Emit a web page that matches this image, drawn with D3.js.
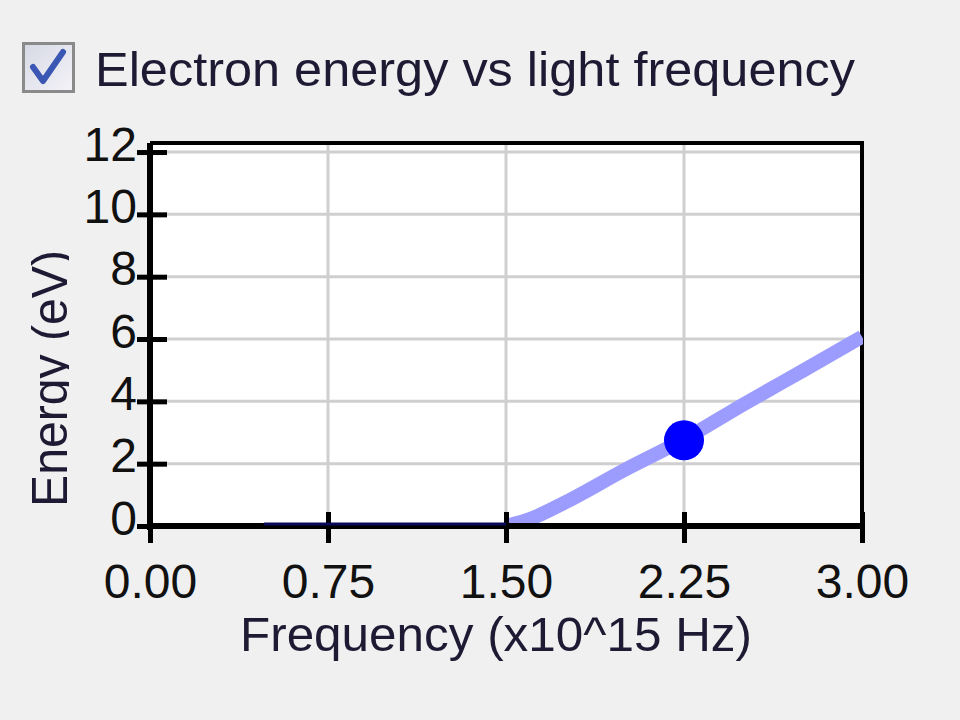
<!DOCTYPE html>
<html>
<head>
<meta charset="utf-8">
<script src="https://cdn.jsdelivr.net/npm/d3@7/dist/d3.min.js"></script>
<style>
html,body{margin:0;padding:0;background:#f0f0f0;}
svg{display:block;}
text{font-family:"Liberation Sans",Arial,sans-serif;}
</style>
</head>
<body>
<svg id="chart" width="960" height="720"></svg>
<script>
// ---- data ----
const chartTitle = "Electron energy vs light frequency";
const xAxisTitle = "Frequency (x10^15 Hz)";
const yAxisTitle = "Energy (eV)";
const xTicks = [0, 0.75, 1.5, 2.25, 3.0];
const yTicks = [0, 2, 4, 6, 8, 10, 12];
// below threshold: zero energy (dark line)
const zeroFreq = [0.48, 0.75, 1.0, 1.25, 1.5];
const zeroEnergy = [0, 0, 0, 0, 0];
// above threshold: electron energy curve (light blue)
const curveFreq = [1.50, 1.60, 1.75, 2.00, 2.25, 2.50, 2.75, 3.00];
const curveEnergy = [0.00, 0.22, 0.76, 1.80, 2.78, 3.90, 4.98, 6.07];
// current point
const pointFreq = [2.25];
const pointEnergy = [2.75];

(function () {
// ---- layout ----
const svg = d3.select("#chart");
const pL = 150, pR = 862, pT = 143, pB = 526;
const x = d3.scaleLinear().domain([0, 3]).range([pL, pR]);
const y = d3.scaleLinear().domain([0, 12.29]).range([pB, pT]);

svg.append("rect").attr("width", 960).attr("height", 720).attr("fill", "#f0f0f0");

// checkbox
const cb = svg.append("g");
cb.append("defs").html('<linearGradient id="cbg" x1="0" y1="0" x2="1" y2="1"><stop offset="0" stop-color="#d6d8e4"/><stop offset="1" stop-color="#f4f4f8"/></linearGradient>');
cb.append("rect").attr("x", 23.5).attr("y", 43.5).attr("width", 50).attr("height", 48)
  .attr("fill", "url(#cbg)").attr("stroke", "#8a8a8a").attr("stroke-width", 3);
cb.append("path").attr("d", "M33,67 L43,81 L63,52").attr("fill", "none")
  .attr("stroke", "#3b57b4").attr("stroke-width", 6).attr("stroke-linejoin", "round").attr("stroke-linecap", "round");

// title
svg.append("text").attr("x", 95).attr("y", 86).attr("font-size", 48).attr("fill", "#1e1a33")
  .attr("textLength", 760).attr("lengthAdjust", "spacingAndGlyphs").text(chartTitle);

// plot background
svg.append("rect").attr("x", pL).attr("y", pT).attr("width", pR - pL).attr("height", pB - pT).attr("fill", "#ffffff");

// grid
const grid = svg.append("g").attr("stroke", "#cfcfcf").attr("stroke-width", 3);
grid.selectAll("line.v").data(xTicks.filter(d => d > 0 && d < 3)).join("line").attr("class", "v")
  .attr("x1", d => x(d)).attr("x2", d => x(d)).attr("y1", pT).attr("y2", pB);
grid.selectAll("line.h").data(yTicks.filter(d => d > 0)).join("line").attr("class", "h")
  .attr("x1", pL).attr("x2", pR).attr("y1", d => y(d)).attr("y2", d => y(d));

// border top/right
svg.append("line").attr("x1", pL).attr("x2", pR + 2).attr("y1", pT).attr("y2", pT).attr("stroke", "#000").attr("stroke-width", 4);
svg.append("line").attr("x1", pR).attr("x2", pR).attr("y1", pT).attr("y2", pB).attr("stroke", "#000").attr("stroke-width", 4);

// light blue curve
const line = d3.line().x(d => x(d[0])).y(d => y(d[1])).curve(d3.curveMonotoneX);
const curveData = curveFreq.map((f, i) => [f, curveEnergy[i]]);
svg.append("defs").append("clipPath").attr("id", "plotclip").append("rect")
  .attr("x", pL).attr("y", pT).attr("width", pR - pL + 1).attr("height", pB - pT);
svg.append("path").datum(curveData).attr("d", line).attr("fill", "none")
  .attr("stroke", "#9c9cff").attr("stroke-width", 14).attr("clip-path", "url(#plotclip)");

// axes (thick)
const xAxis = d3.axisBottom(x).tickValues(xTicks).tickSize(0).tickFormat(d3.format(".2f"));
const yAxis = d3.axisLeft(y).tickValues(yTicks).tickSize(0).tickFormat(d3.format("d"));

const gx = svg.append("g").attr("transform", `translate(0,${pB})`).call(xAxis);
gx.select(".domain").attr("stroke", "#000").attr("stroke-width", 6).attr("d", `M${pL - 3},0H${pR + 2}`);
gx.selectAll(".tick line").remove();
gx.selectAll(".tick").append("line").attr("y1", -14).attr("y2", 17).attr("stroke", "#000").attr("stroke-width", 5);
gx.selectAll(".tick text").attr("y", 72).attr("dy", 0).attr("font-size", 48).attr("fill", "#111")
  .attr("font-family", "Liberation Sans, Arial, sans-serif");

const gy = svg.append("g").attr("transform", `translate(${pL},0)`).call(yAxis);
gy.select(".domain").attr("stroke", "#000").attr("stroke-width", 6).attr("d", `M0,${pT}V${pB + 4}`);
gy.selectAll(".tick line").remove();
gy.selectAll(".tick").append("line").attr("x1", -13).attr("x2", 17).attr("stroke", "#000").attr("stroke-width", 5);
gy.selectAll(".tick text").attr("x", -13).attr("dy", 8).attr("font-size", 48).attr("fill", "#111")
  .attr("font-family", "Liberation Sans, Arial, sans-serif");

// zero-energy dark line on axis
const zeroData = zeroFreq.map((f, i) => [f, zeroEnergy[i]]);
svg.append("path").datum(zeroData).attr("d", d3.line().x(d => x(d[0])).y(d => y(d[1]) - 2))
  .attr("fill", "none").attr("stroke", "#0a0a5c").attr("stroke-width", 3);

// current point
svg.selectAll("circle.pt").data(pointFreq.map((f, i) => [f, pointEnergy[i]])).join("circle").attr("class", "pt")
  .attr("cx", d => x(d[0])).attr("cy", d => y(d[1])).attr("r", 20).attr("fill", "#0000ff");

// axis titles
svg.append("text").attr("x", 240).attr("y", 651).attr("font-size", 48).attr("fill", "#1e1a33")
  .attr("textLength", 512).attr("lengthAdjust", "spacingAndGlyphs").text(xAxisTitle);

svg.append("defs").append("clipPath").attr("id", "ytclip").append("rect")
  .attr("x", 0).attr("y", 0).attr("width", 69).attr("height", 720);
svg.append("g").attr("clip-path", "url(#ytclip)")
  .append("text").attr("transform", "translate(67,507) rotate(-90)").attr("font-size", 50).attr("fill", "#1e1a33")
  .attr("textLength", 257).attr("lengthAdjust", "spacingAndGlyphs").text(yAxisTitle);
})();
</script>
</body>
</html>
